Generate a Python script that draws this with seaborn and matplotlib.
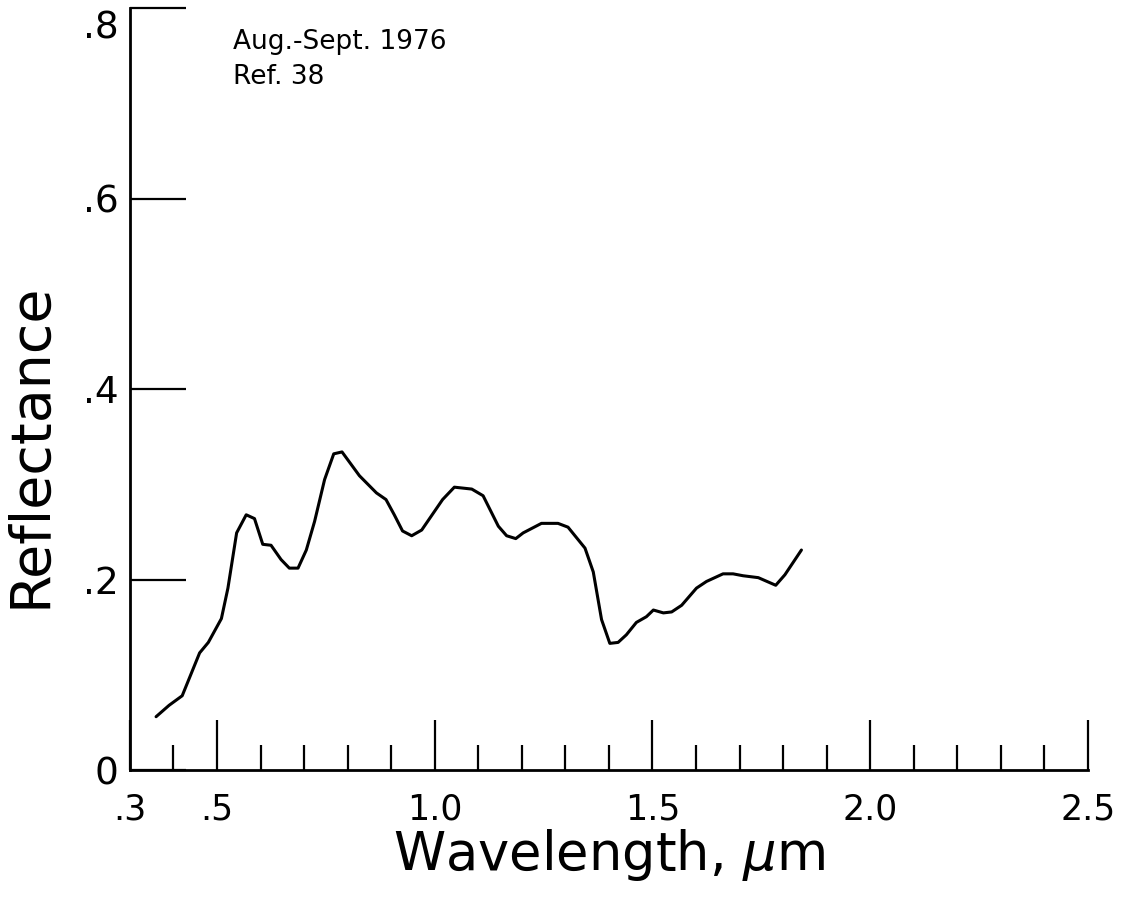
import matplotlib
matplotlib.use("Agg")
import matplotlib.pyplot as plt
import matplotlib.transforms as mtransforms
import seaborn as sns
import pandas as pd
from matplotlib.ticker import MultipleLocator, FixedLocator

# Spectral reflectance
wavelength = [0.36, 0.39, 0.42, 0.46, 0.48, 0.51, 0.525, 0.545, 0.567, 0.586,
              0.605, 0.624, 0.647, 0.666, 0.686, 0.705, 0.724, 0.747, 0.768, 0.787,
              0.827, 0.866, 0.888, 0.907, 0.926, 0.947, 0.97, 1.018, 1.045, 1.085,
              1.111, 1.146, 1.165, 1.186, 1.203, 1.245, 1.283, 1.306, 1.345, 1.364,
              1.383, 1.402, 1.421, 1.44, 1.463, 1.486, 1.502, 1.525, 1.544, 1.567,
              1.601, 1.624, 1.662, 1.685, 1.708, 1.743, 1.783, 1.804, 1.842]
reflectance = [0.056, 0.068, 0.078, 0.123, 0.134, 0.159, 0.191, 0.249, 0.268, 0.264,
               0.237, 0.236, 0.221, 0.212, 0.212, 0.231, 0.261, 0.305, 0.332, 0.334,
               0.309, 0.291, 0.284, 0.268, 0.251, 0.246, 0.252, 0.284, 0.297, 0.295,
               0.288, 0.256, 0.246, 0.243, 0.249, 0.259, 0.259, 0.255, 0.233, 0.208,
               0.158, 0.133, 0.134, 0.142, 0.155, 0.161, 0.168, 0.165, 0.166, 0.173,
               0.191, 0.198, 0.206, 0.206, 0.204, 0.202, 0.194, 0.205, 0.231]

x_ticks = [0.3, 0.5, 1.0, 1.5, 2.0, 2.5]
x_ticklabels = [".3", ".5", "1.0", "1.5", "2.0", "2.5"]
y_ticks = [0, 0.2, 0.4, 0.6, 0.8]
y_ticklabels = ["0", ".2", ".4", ".6", ".8"]

df = pd.DataFrame({"wavelength": wavelength, "reflectance": reflectance})

sns.set_style("ticks")
plt.rcParams["font.family"] = ["DejaVu Sans"]
# plain black like the scanned original
for key in ["text.color", "axes.labelcolor", "xtick.color", "ytick.color", "axes.edgecolor"]:
    plt.rcParams[key] = "black"

fig = plt.figure(figsize=(11.28, 9), dpi=100)
ax = fig.add_axes([0.1152, 0.1444, 0.8493, 0.8466])

sns.lineplot(data=df, x="wavelength", y="reflectance", color="black",
             linewidth=2.2, sort=False, ax=ax)

ax.set_xlim(0.3, 2.5)
ax.set_ylim(0, 0.8)

ax.xaxis.set_major_locator(FixedLocator(x_ticks))
ax.set_xticklabels(x_ticklabels)
ax.xaxis.set_minor_locator(MultipleLocator(0.1))
ax.yaxis.set_major_locator(FixedLocator(y_ticks))
ax.set_yticklabels(y_ticklabels)

ax.tick_params(axis="x", which="major", direction="in", length=36, width=1.6,
               labelsize=25, pad=16)
ax.tick_params(axis="x", which="minor", direction="in", length=18, width=1.6)
ax.tick_params(axis="y", which="major", direction="in", length=40, width=1.6,
               labelsize=27, pad=8)

# the top label sits a little below its tick in the original
top_lbl = ax.get_yticklabels()[-1]
top_lbl.set_transform(top_lbl.get_transform() +
                      mtransforms.ScaledTranslation(0, -12 / 72, fig.dpi_scale_trans))

for side in ["top", "right"]:
    ax.spines[side].set_visible(False)
for side in ["left", "bottom"]:
    ax.spines[side].set_linewidth(2)

ax.set_xlabel("Wavelength, $\\mu$m", fontsize=38)
ax.set_ylabel("Reflectance", fontsize=40)
ax.xaxis.set_label_coords(0.5, -0.075)
ax.yaxis.set_label_coords(-0.076, 0.426)

ax.text(0.108, 0.972, "Aug.-Sept. 1976\nRef. 38", transform=ax.transAxes,
        fontsize=19, va="top", ha="left", linespacing=1.45)

fig.savefig("out.png", dpi=100)
